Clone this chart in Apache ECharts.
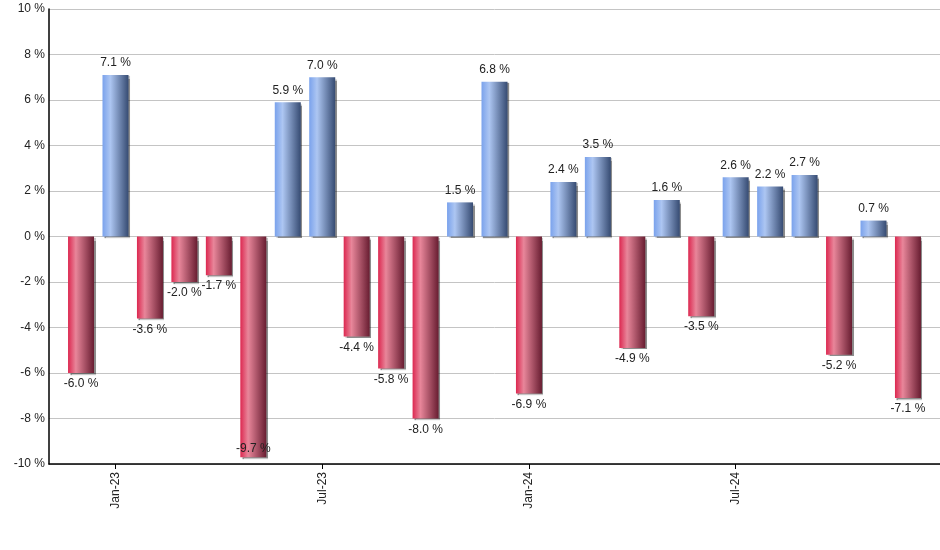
<!DOCTYPE html>
<html>
<head>
<meta charset="utf-8">
<script src="https://cdn.jsdelivr.net/npm/echarts@6/dist/echarts.min.js"></script>
<style>html,body{margin:0;padding:0;background:#fff}#c{width:940px;height:550px}</style>
</head>
<body>
<div id="c"></div>
<script>
var months = ['Dec-22','Jan-23','Feb-23','Mar-23','Apr-23','May-23','Jun-23','Jul-23','Aug-23','Sep-23','Oct-23','Nov-23','Dec-23','Jan-24','Feb-24','Mar-24','Apr-24','May-24','Jun-24','Jul-24','Aug-24','Sep-24','Oct-24','Nov-24','Dec-24'];
var returns = [-6.0, 7.1, -3.6, -2.0, -1.7, -9.7, 5.9, 7.0, -4.4, -5.8, -8.0, 1.5, 6.8, -6.9, 2.4, 3.5, -4.9, 1.6, -3.5, 2.6, 2.2, 2.7, -5.2, 0.7, -7.1];
var tickMonths = ['Jan-23','Jul-23','Jan-24','Jul-24'];
var yTicks = [-10, -8, -6, -4, -2, 0, 2, 4, 6, 8, 10];

var blueGrad = new echarts.graphic.LinearGradient(0,0,1,0,[
  {offset:0,color:'#7aa2ec'},{offset:0.3,color:'#adc6f2'},{offset:1,color:'#364b72'}]);
var redGrad = new echarts.graphic.LinearGradient(0,0,1,0,[
  {offset:0,color:'#dc2850'},{offset:0.3,color:'#e8869a'},{offset:1,color:'#681d31'}]);

var tickIdx = tickMonths.map(function(m){ return months.indexOf(m); });
var FONT = 'Liberation Sans, Arial, sans-serif';

var data = returns.map(function(v, i){
  var item = { value: [i, v], itemStyle: { color: v >= 0 ? blueGrad : redGrad } };
  if (v >= 0) {
    item.label = { position: 'top', distance: 6 };
  } else if (v < -9) {
    item.label = { position: 'insideBottom', distance: 2 };
  } else {
    item.label = { position: 'bottom', distance: 5 };
  }
  return item;
});

var chart = echarts.init(document.getElementById('c'), null, {renderer:'canvas'});
chart.setOption({
  animation: false,
  backgroundColor: '#fff',
  grid: { left: 49, right: 0, top: 9, height: 455, containLabel: false },
  xAxis: {
    type: 'value',
    min: -0.93, max: 24.93,
    splitLine: { show: false },
    axisLine: { show: true, onZero: false, lineStyle: { color: '#000', width: 1.5 } },
    axisTick: { show: true, customValues: tickIdx, length: 5, lineStyle: { color: '#000' } },
    axisLabel: {
      customValues: tickIdx,
      rotate: 90, margin: 8,
      fontFamily: FONT, fontSize: 12, color: '#222',
      formatter: function(v){ return months[Math.round(v)] || ''; }
    }
  },
  yAxis: {
    type: 'value',
    min: -10, max: 10, interval: 2,
    axisLine: { show: true, onZero: false, lineStyle: { color: '#000', width: 1.5 } },
    axisTick: { show: false },
    splitLine: { show: true, lineStyle: { color: '#c4c4c4', width: 1 } },
    axisLabel: {
      margin: 4, fontFamily: FONT, fontSize: 12, color: '#222',
      formatter: function(v){ return v + ' %'; }
    }
  },
  series: [{
    type: 'bar',
    barWidth: 26,
    data: data,
    itemStyle: {
      shadowColor: 'rgba(0,0,0,0.45)', shadowOffsetX: 1.5, shadowOffsetY: 1.5, shadowBlur: 1
    },
    label: {
      show: true, fontFamily: FONT, fontSize: 12, color: '#222',
      formatter: function(p){ return p.value[1].toFixed(1) + ' %'; }
    }
  }]
});
</script>
</body>
</html>
